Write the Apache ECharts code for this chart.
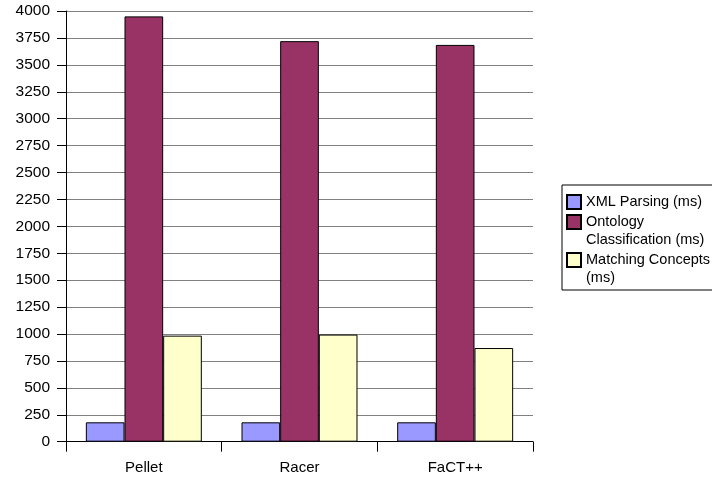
<!DOCTYPE html>
<html>
<head>
<meta charset="utf-8">
<script src="https://cdn.jsdelivr.net/npm/echarts@6/dist/echarts.min.js"></script>
<style>
  html, body { margin: 0; padding: 0; background: #fff; }
  #chart { width: 712px; height: 482px; }
</style>
</head>
<body>
<div id="chart"></div>
<script>
const categories = ['Pellet', 'Racer', 'FaCT++'];
const seriesNames = ['XML Parsing (ms)', 'Ontology Classification (ms)', 'Matching Concepts (ms)'];
const legendLabels = ['XML Parsing (ms)', ' \nOntology\nClassification (ms)', ' \nMatching Concepts\n(ms)'];
const xmlParsing = [180, 180, 180];
const ontologyClassification = [3950, 3720, 3685];
const matchingConcepts = [985, 995, 870];
const seriesColors = ['#9999FF', '#993366', '#FFFFCC'];
const yTicks = { min: 0, max: 4000, interval: 250 };

const FONT = 'Liberation Sans, Arial, sans-serif';
const chart = echarts.init(document.getElementById('chart'), null, { renderer: 'canvas' });
const values = [xmlParsing, ontologyClassification, matchingConcepts];

chart.setOption({
  animation: false,
  backgroundColor: '#ffffff',
  grid: { left: 66, right: 179, top: 11, bottom: 40.3, containLabel: false },
  legend: {
    orient: 'vertical',
    left: 562,
    top: 185,
    padding: [8, 12, 3, 4],
    itemGap: -16,
    itemWidth: 14,
    itemHeight: 14,
    borderColor: '#000',
    borderWidth: 1,
    borderRadius: 0,
    icon: 'rect',
    textStyle: { fontFamily: FONT, fontSize: 14.5, color: '#000', lineHeight: 18 },
    formatter: function (name) { return legendLabels[seriesNames.indexOf(name)]; },
    data: seriesNames
  },
  xAxis: {
    type: 'category',
    data: categories,
    boundaryGap: true,
    axisLine: { show: true, lineStyle: { color: '#000', width: 1 } },
    axisTick: { show: true, length: 10, interval: 0, lineStyle: { color: '#000' } },
    axisLabel: { fontFamily: FONT, fontSize: 15, color: '#000', margin: 19 },
    splitLine: { show: false }
  },
  yAxis: {
    type: 'value',
    min: yTicks.min,
    max: yTicks.max,
    interval: yTicks.interval,
    axisLine: { show: true, lineStyle: { color: '#000', width: 1 } },
    axisTick: { show: true, length: 9, lineStyle: { color: '#000' } },
    axisLabel: {
      fontFamily: FONT, fontSize: 15.5, color: '#000', margin: 16,
      formatter: function (v) { return String(v); }
    },
    splitLine: { show: true, lineStyle: { color: '#808080', width: 1 } }
  },
  series: seriesNames.map(function (n, i) {
    return {
      name: n,
      type: 'bar',
      data: values[i],
      barGap: '0%',
      barCategoryGap: '25.5%',
      itemStyle: { color: seriesColors[i], borderColor: '#000', borderWidth: 1 },
      emphasis: { disabled: true }
    };
  })
});
</script>
</body>
</html>
